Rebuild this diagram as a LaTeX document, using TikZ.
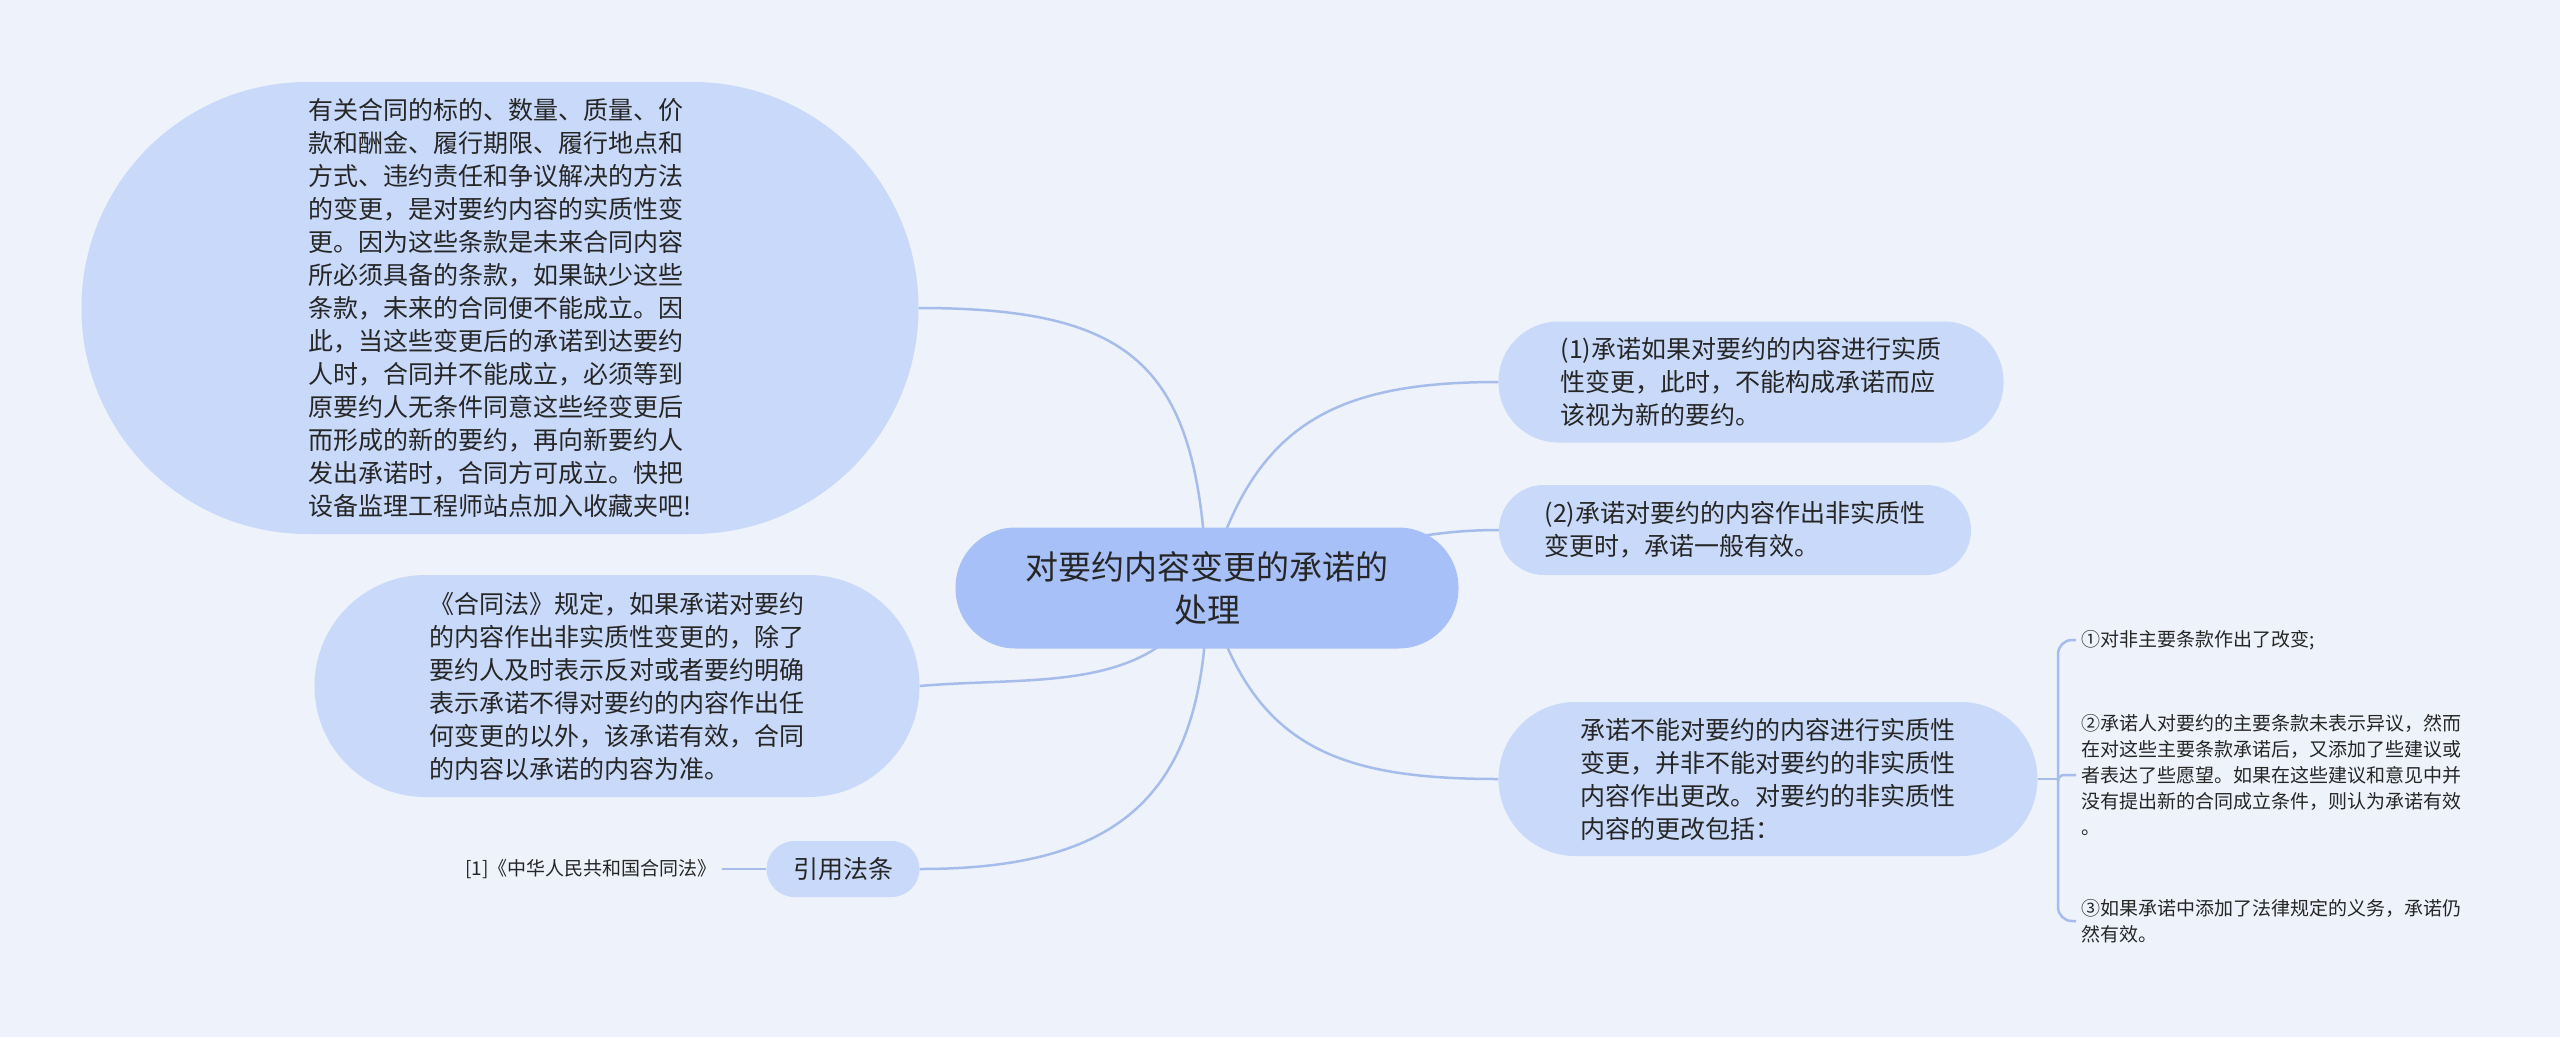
\documentclass[tikz,border=0pt]{standalone}
\usepackage{fontspec}
\newfontfamily\cjk{Noto Sans CJK SC}
\usetikzlibrary{backgrounds}
\definecolor{bgcol}{HTML}{EEF2FA}
\definecolor{maincol}{HTML}{A8C0F8}
\definecolor{subcol}{HTML}{C9D9F9}
\definecolor{linecol}{HTML}{A6BDEC}
\definecolor{txtcol}{HTML}{262626}

\begin{document}
\begin{tikzpicture}[x=1pt, y=-1pt,
        maintopic/.style={fill=maincol, text=txtcol, align=center, inner sep=0pt, font=\cjk\fontsize{33}{43}\selectfont},
        subtopic/.style={fill=subcol, text=txtcol, align=left, inner sep=0pt, font=\cjk\fontsize{25}{33}\selectfont},
        leaf/.style={text=txtcol, align=left, inner sep=5pt, font=\cjk\fontsize{19}{26}\selectfont},
        link/.style={draw=linecol, line width=2.5pt}
    ]
        \useasboundingbox (0,0) rectangle (2560,1037);

        \node[maintopic, minimum width=503pt, minimum height=121pt, rounded corners=60pt] (mc) at (1207, 588) {对要约内容变更的承诺的\\处理};

        % left side
        \node[subtopic, minimum width=837pt, minimum height=452pt, rounded corners=226pt] (l1) at (500, 308) {有关合同的标的、数量、质量、价\\款和酬金、履行期限、履行地点和\\方式、违约责任和争议解决的方法\\的变更，是对要约内容的实质性变\\更。因为这些条款是未来合同内容\\所必须具备的条款，如果缺少这些\\条款，未来的合同便不能成立。因\\此，当这些变更后的承诺到达要约\\人时，合同并不能成立，必须等到\\原要约人无条件同意这些经变更后\\而形成的新的要约，再向新要约人\\发出承诺时，合同方可成立。快把\\设备监理工程师站点加入收藏夹吧!};
        \node[subtopic, minimum width=605pt, minimum height=222pt, rounded corners=111pt] (l2) at (617, 686) {《合同法》规定，如果承诺对要约\\的内容作出非实质性变更的，除了\\要约人及时表示反对或者要约明确\\表示承诺不得对要约的内容作出任\\何变更的以外，该承诺有效，合同\\的内容以承诺的内容为准。};
        \node[subtopic, minimum width=153pt, minimum height=56pt, rounded corners=28pt] (l3) at (843, 869) {引用法条};
        \node[leaf, anchor=east] (lit) at (722, 869) {[1]《中华人民共和国合同法》};

        % right side
        \node[subtopic, minimum width=505pt, minimum height=121pt, rounded corners=60pt] (r1) at (1751, 382) {(1)承诺如果对要约的内容进行实质\\性变更，此时，不能构成承诺而应\\该视为新的要约。};
        \node[subtopic, minimum width=472pt, minimum height=90pt, rounded corners=45pt] (r2) at (1735, 530) {(2)承诺对要约的内容作出非实质性\\变更时，承诺一般有效。};
        \node[subtopic, minimum width=539pt, minimum height=154pt, rounded corners=77pt] (r3) at (1768, 779) {承诺不能对要约的内容进行实质性\\变更，并非不能对要约的非实质性\\内容作出更改。对要约的非实质性\\内容的更改包括：};

        \coordinate (hub) at (2058, 779);
        \node[leaf, anchor=west] (c1) at (2076, 640) {①对非主要条款作出了改变;};
        \node[leaf, anchor=west] (c2) at (2076, 775) {②承诺人对要约的主要条款未表示异议，然而\\在对这些主要条款承诺后，又添加了些建议或\\者表达了些愿望。如果在这些建议和意见中并\\没有提出新的合同成立条件，则认为承诺有效\\。};
        \node[leaf, anchor=west] (c3) at (2076, 921) {③如果承诺中添加了法律规定的义务，承诺仍\\然有效。};

        \begin{scope}[on background layer]
            \fill[bgcol] (0,0) rectangle (2560,1037);
            \draw[link] (mc.center) to[out=92, in=0, looseness=1.4] (l1.east);
            \draw[link] (mc.center) to[out=-115, in=5] (l2.east);
            \draw[link] (mc.center) to[out=-90, in=0, looseness=1.3] (l3.east);
            \draw[link] (lit.east) -- (l3.west);
            \draw[link] (mc.center) to[out=75, in=180, looseness=1.2] (r1.west);
            \draw[link] (mc.center) to[out=10, in=180] (r2.west);
            \draw[link] (mc.center) to[out=-75, in=180, looseness=1.2] (r3.west);
            \draw[link] (r3.east) -- (hub);
            \draw[link, rounded corners=14pt] (hub) |- (c1.west);
            \draw[link, rounded corners=6pt] (hub) |- (c2.west);
            \draw[link, rounded corners=14pt] (hub) |- (c3.west);
        \end{scope}
    \end{tikzpicture}
\end{document}
